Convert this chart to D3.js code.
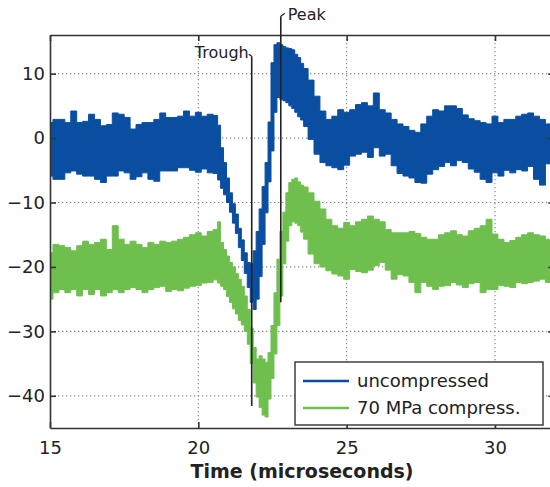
<!DOCTYPE html>
<html>
<head>
<meta charset="utf-8">
<script src="https://cdn.jsdelivr.net/npm/d3@7/dist/d3.min.js"></script>
<style>
  html, body { margin: 0; padding: 0; background: #fff; }
  svg { display: block; }
  text { font-family: "DejaVu Sans", Verdana, sans-serif; fill: #222; }
</style>
</head>
<body>
<svg id="chart" width="550" height="487"></svg>
<script>
// Sample times (microseconds): coarse on the baseline, finer through the trough/peak transient
const time = [
  15.0, 15.2, 15.4, 15.6, 15.8, 16.0, 16.2, 16.4, 16.6, 16.8,
  17.0, 17.2, 17.4, 17.6, 17.8, 18.0, 18.2, 18.4, 18.6, 18.8,
  19.0, 19.2, 19.4, 19.6, 19.8, 20.0, 20.2, 20.4, 20.6,
  20.7, 20.8, 20.9, 21.0, 21.1, 21.2, 21.3, 21.4, 21.5, 21.6,
  21.7, 21.8, 21.9, 22.0, 22.1, 22.2, 22.3, 22.4, 22.5, 22.6,
  22.7, 22.8, 22.9, 23.0, 23.1, 23.2, 23.3, 23.4, 23.5, 23.6,
  23.8, 24.0, 24.2, 24.4, 24.6, 24.8, 25.0, 25.2, 25.4, 25.6,
  25.8, 26.0, 26.2, 26.4, 26.6, 26.8, 27.0, 27.2, 27.4, 27.6,
  27.8, 28.0, 28.2, 28.4, 28.6, 28.8, 29.0, 29.2, 29.4, 29.6,
  29.8, 30.0, 30.2, 30.4, 30.6, 30.8, 31.0, 31.2, 31.4, 31.6,
  31.8, 32.0
];

// Uncompressed signal: upper and lower envelope of the noisy trace
const uncompressedHigh = [
  2.4, 2.9, 2.9, 2.4, 4.2, 2.4, 2.6, 3.7, 2.9, 1.9,
  2.1, 3.9, 3.7, 3.2, 1.4, 2.1, 2.4, 2.4, 2.9, 3.9,
  3.2, 3.2, 3.4, 4.2, 3.4, 4.0, 3.4, 3.7, 3.5,
  2.0, -1.5, -3.8, -6.2, -8.5, -10.2, -11.8, -14.0, -15.8, -17.8,
  -19.3, -19.5, -17.5, -14.5, -11.0, -7.5, -3.8, 2.5, 11.7, 14.5,
  14.8, 14.5, 14.2, 14.0, 13.9, 13.7, 13.0, 12.5, 11.6, 10.8,
  9.0, 6.5, 4.2, 2.9, 3.4, 4.4, 4.0, 4.4, 5.2, 5.5,
  5.0, 7.0, 4.4, 3.9, 2.9, 2.2, 1.8, 1.2, 0.9, 2.2,
  3.4, 4.4, 4.2, 5.0, 5.0, 4.6, 3.6, 3.0, 2.7, 2.4,
  2.2, 3.4, 2.4, 2.9, 2.9, 3.4, 3.7, 3.9, 3.4, 2.9,
  2.2, 2.4
];
const uncompressedLow = [
  -5.9, -6.4, -6.4, -5.4, -5.1, -5.6, -5.9, -5.9, -6.4, -6.9,
  -5.9, -5.9, -5.1, -5.4, -6.4, -6.0, -5.4, -6.4, -6.7, -5.1,
  -5.1, -5.1, -4.6, -4.6, -5.0, -5.3, -4.8, -5.4, -5.5,
  -6.5, -7.8, -8.8, -10.0, -11.5, -13.2, -14.8, -17.0, -19.0, -21.0,
  -23.2, -25.5, -26.6, -25.0, -21.5, -16.5, -11.6, -6.8, -2.0, 4.0,
  6.3, 6.0, 5.8, 5.5, 5.0, 4.6, 4.0, 3.3, 2.8, 1.8,
  -0.2, -2.5, -3.8, -4.3, -4.6, -4.9, -4.2, -2.8, -2.5, -2.2,
  -3.0, -1.5, -2.8, -2.5, -4.3, -5.5, -5.9, -6.2, -6.9, -7.0,
  -5.6, -4.9, -4.4, -3.8, -4.3, -3.5, -3.8, -4.8, -5.3, -6.4,
  -6.9, -5.4, -5.9, -5.0, -5.4, -4.9, -5.1, -4.4, -6.4, -7.3,
  -4.0, -5.0
];

// 70 MPa compressed signal: upper and lower envelope
const compressedHigh = [
  -17.8, -16.5, -16.7, -17.0, -17.5, -16.7, -16.0, -16.5, -16.2, -15.7,
  -17.3, -13.6, -15.7, -16.5, -16.0, -16.5, -17.0, -16.2, -16.5, -16.0,
  -16.2, -16.0, -15.7, -15.4, -15.0, -14.7, -15.2, -14.5, -14.2,
  -13.0, -16.2, -17.3, -18.3, -19.3, -20.0, -21.0, -21.9, -23.0, -24.5,
  -26.6, -29.5, -32.5, -34.3, -33.8, -34.3, -34.8, -33.3, -29.1, -24.0,
  -18.8, -14.5, -11.5, -8.5, -6.9, -6.4, -6.2, -6.8, -7.3, -7.6,
  -8.5, -9.8, -11.0, -12.6, -13.6, -14.0, -13.1, -13.6, -13.0, -12.6,
  -12.1, -12.6, -13.0, -14.2, -14.7, -14.7, -14.7, -14.5, -14.8, -15.4,
  -15.7, -15.7, -15.0, -14.7, -14.4, -15.0, -15.2, -14.4, -14.0, -13.6,
  -12.6, -14.9, -15.7, -16.2, -15.9, -15.4, -15.0, -14.7, -15.0, -15.2,
  -15.7, -15.5
];
const compressedLow = [
  -25.0, -24.0, -23.5, -24.0, -23.5, -24.5, -23.5, -24.3, -23.5, -24.5,
  -24.0, -23.5, -24.0, -23.5, -23.2, -23.5, -24.0, -23.5, -23.2, -23.0,
  -23.8, -23.5, -23.7, -23.3, -23.0, -22.9, -22.5, -22.4, -22.0,
  -22.5, -23.0, -23.5, -24.6, -25.5, -26.5, -27.3, -28.3, -29.0, -30.0,
  -32.0, -35.0, -38.0, -40.2, -41.8, -43.0, -43.3, -40.5, -37.3, -33.5,
  -29.1, -24.5, -19.5, -16.0, -13.6, -13.0, -13.2, -13.6, -14.6, -15.7,
  -18.0, -19.5, -20.0, -20.6, -21.1, -21.4, -21.9, -20.4, -20.7, -20.9,
  -20.5, -19.8, -19.3, -20.5, -21.9, -21.2, -21.4, -22.4, -24.0, -22.4,
  -23.0, -23.5, -23.0, -22.9, -22.4, -22.8, -23.2, -22.6, -22.4, -24.0,
  -23.5, -23.5, -22.9, -23.0, -23.2, -22.4, -22.6, -22.4, -22.2, -21.9,
  -22.4, -22.3
];

const xTicks = [15, 20, 25, 30];
const yTicks = [-40, -30, -20, -10, 0, 10];
const seriesNames = ["uncompressed", "70 MPa compress."];
const seriesColors = ["#0a4ea2", "#6fbf4e"];

// Marker lines: time, vertical extent (signal units) and label
const markers = [
  { label: "Trough", t: 21.8, top: 12.7, bottom: -41.6 },
  { label: "Peak",   t: 22.78, top: 18.9, bottom: -25.5 }
];

const svg = d3.select("#chart");
const plotLeft = 50, plotRight = 554.3, plotTop = 35, plotBottom = 428;

const x = d3.scaleLinear().domain([15, 32]).range([plotLeft, plotRight]);
const y = d3.scaleLinear().domain([-45, 16]).range([plotBottom, plotTop]);

// Dotted grid
const grid = svg.append("g").attr("stroke", "#8a8a8a").attr("stroke-width", 1.2)
  .attr("stroke-dasharray", "1.3,2.7");
grid.selectAll(".gx").data(xTicks.filter(d => d > 15)).join("line")
  .attr("x1", d => x(d)).attr("x2", d => x(d)).attr("y1", plotTop).attr("y2", plotBottom);
grid.selectAll(".gy").data(yTicks).join("line")
  .attr("y1", d => y(d)).attr("y2", d => y(d)).attr("x1", plotLeft).attr("x2", plotRight);

// Signal bands
const rows = time.map((t, i) => ({
  t,
  uh: uncompressedHigh[i], ul: uncompressedLow[i],
  ch: compressedHigh[i], cl: compressedLow[i]
}));

svg.append("clipPath").attr("id", "plotClip")
  .append("rect").attr("x", plotLeft).attr("y", plotTop)
  .attr("width", plotRight - plotLeft).attr("height", plotBottom - plotTop);

const plot = svg.append("g").attr("clip-path", "url(#plotClip)");

const bandC = d3.area().curve(d3.curveStep)
  .x(d => x(d.t)).y0(d => y(d.cl)).y1(d => y(d.ch));
const bandU = d3.area().curve(d3.curveStep)
  .x(d => x(d.t)).y0(d => y(d.ul)).y1(d => y(d.uh));

plot.append("path").datum(rows).attr("d", bandC)
  .attr("fill", seriesColors[1]).attr("stroke", seriesColors[1]).attr("stroke-width", 1);
plot.append("path").datum(rows).attr("d", bandU)
  .attr("fill", seriesColors[0]).attr("stroke", seriesColors[0]).attr("stroke-width", 1);

// Axes
const fontSize = 18;
const axB = svg.append("g").attr("transform", `translate(0,${plotBottom})`)
  .call(d3.axisBottom(x).tickValues(xTicks).tickSizeInner(-6).tickSizeOuter(0).tickPadding(13));
const axL = svg.append("g").attr("transform", `translate(${plotLeft},0)`)
  .call(d3.axisLeft(y).tickValues(yTicks).tickSizeInner(-6).tickSizeOuter(0).tickPadding(5));
const axT = svg.append("g").attr("transform", `translate(0,${plotTop})`)
  .call(d3.axisTop(x).tickValues(xTicks).tickSizeInner(-6).tickSizeOuter(0).tickFormat(""));
const axR = svg.append("g").attr("transform", `translate(${plotRight},0)`)
  .call(d3.axisRight(y).tickValues(yTicks).tickSizeInner(-6).tickSizeOuter(0).tickFormat(""));

[axB, axL, axT, axR].forEach(g => {
  g.selectAll("path.domain").attr("stroke", "#333").attr("stroke-width", 1.6);
  g.selectAll(".tick line").attr("stroke", "#333").attr("stroke-width", 1.6);
  g.selectAll(".tick text").attr("font-size", fontSize)
    .attr("font-family", "DejaVu Sans, Verdana, sans-serif").attr("fill", "#222");
});

svg.append("text")
  .attr("x", 302).attr("y", 478)
  .attr("text-anchor", "middle")
  .attr("font-size", 19).attr("font-weight", "bold")
  .text("Time (microseconds)");

// Trough / peak markers
const mk = svg.append("g");
markers.forEach((m, i) => {
  const mx = x(m.t);
  mk.append("line")
    .attr("x1", mx).attr("x2", mx)
    .attr("y1", y(m.top)).attr("y2", y(m.bottom))
    .attr("stroke", "#222").attr("stroke-width", 1.6);
  if (i === 0) {
    mk.append("path")
      .attr("d", `M${mx - 3},${y(m.top) - 2} L${mx},${y(m.top)}`)
      .attr("stroke", "#222").attr("stroke-width", 1.2).attr("fill", "none");
    mk.append("text").attr("x", mx - 3).attr("y", y(m.top) + 2)
      .attr("text-anchor", "end").attr("font-size", 16).text(m.label);
  } else {
    mk.append("path")
      .attr("d", `M${mx},${y(m.top)} L${mx + 4},${y(m.top) - 3}`)
      .attr("stroke", "#222").attr("stroke-width", 1.2).attr("fill", "none");
    mk.append("text").attr("x", mx + 7).attr("y", y(m.top) + 4)
      .attr("text-anchor", "start").attr("font-size", 16).text(m.label);
  }
});

// Legend
const lg = svg.append("g").attr("transform", "translate(295,362)");
lg.append("rect").attr("width", 248).attr("height", 63)
  .attr("fill", "#fff").attr("stroke", "#333").attr("stroke-width", 1.4);
seriesNames.forEach((name, i) => {
  const ly = 19 + i * 27;
  lg.append("line").attr("x1", 8).attr("x2", 54).attr("y1", ly).attr("y2", ly)
    .attr("stroke", seriesColors[i]).attr("stroke-width", 2.5);
  lg.append("text").attr("x", 62).attr("y", ly + 6)
    .attr("font-size", fontSize).text(name);
});
</script>
</body>
</html>
